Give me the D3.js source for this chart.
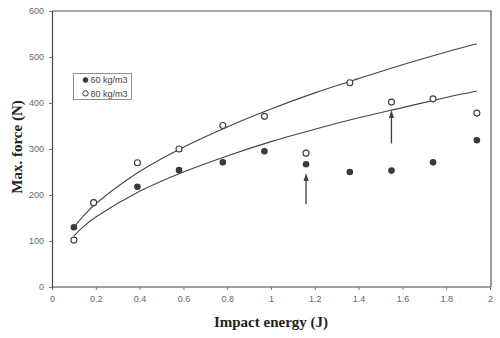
<!DOCTYPE html>
<html>
<head>
<meta charset="utf-8">
<script src="https://cdn.jsdelivr.net/npm/d3@7"></script>
<style>
  html, body { margin: 0; padding: 0; background: #fff; }
  svg { display: block; }
</style>
</head>
<body>
<svg id="chart" width="500" height="338"></svg>
<script>
// Impact energy (J) of each test
const energy = [0.1, 0.19, 0.39, 0.58, 0.78, 0.97, 1.16, 1.36, 1.55, 1.74, 1.94];
// Maximum force (N) per foam density
const force60 = [130, 184, 218, 254, 271, 295, 267, 250, 253, 271, 319];
const force80 = [102, 183, 270, 300, 351, 371, 291, 444, 402, 409, 378];
// Fitted trend curves (energy, force)
const fitEnergy = [0.1, 0.15, 0.2, 0.4, 0.6, 0.8, 1.0, 1.2, 1.4, 1.6, 1.8, 1.94];
const fit80 = [130, 158, 181, 251, 304, 348, 387, 422, 453, 483, 511, 529];
const fit60 = [111, 134, 152, 208, 250, 285, 316, 343, 368, 390, 412, 426];
// Arrows marking notable tests: energy, from force, to force
const arrows = [
  { e: 1.16, from: 180, to: 248 },
  { e: 1.55, from: 312, to: 385 }
];
const xTicks = [0, 0.2, 0.4, 0.6, 0.8, 1, 1.2, 1.4, 1.6, 1.8, 2];
const yTicks = [0, 100, 200, 300, 400, 500, 600];
const seriesNames = ["60 kg/m3", "80 kg/m3"];

const svg = d3.select("#chart");
const m = { left: 52, right: 491, top: 11, bottom: 287 };

const x = d3.scaleLinear().domain([0, 2]).range([m.left, 490]);
const y = d3.scaleLinear().domain([0, 600]).range([m.bottom, m.top]);

const ink = "#3a3a3a";
const tickInk = "#666";

// Frame: top and right borders
svg.append("path")
  .attr("d", `M${m.left},${m.top}H${m.right}V${m.bottom}`)
  .attr("fill", "none").attr("stroke", "#555").attr("stroke-width", 1.2);

// Axes
const xAxis = svg.append("g").attr("transform", `translate(0,${m.bottom})`)
  .call(d3.axisBottom(x).tickValues(xTicks).tickSize(3).tickPadding(6)
    .tickFormat(d3.format("")));
const yAxis = svg.append("g").attr("transform", `translate(${m.left},0)`)
  .call(d3.axisLeft(y).tickValues(yTicks).tickSize(3).tickPadding(5));
[xAxis, yAxis].forEach(g => {
  g.select(".domain").attr("stroke", "#444").attr("stroke-width", 1.2);
  g.selectAll(".tick line").attr("stroke", "#777");
  g.selectAll(".tick text").attr("fill", tickInk)
    .attr("font-family", "Liberation Sans, Arial, sans-serif").attr("font-size", 9);
});
xAxis.select(".domain").attr("d", `M${m.left},0H${m.right}`);

// Axis titles
svg.append("text")
  .attr("x", 271).attr("y", 327).attr("text-anchor", "middle")
  .attr("font-family", "Liberation Serif, Times New Roman, serif")
  .attr("font-weight", "bold").attr("font-size", 15).attr("fill", "#222")
  .text("Impact energy (J)");
svg.append("text")
  .attr("transform", "translate(22,147) rotate(-90)").attr("text-anchor", "middle")
  .attr("font-family", "Liberation Serif, Times New Roman, serif")
  .attr("font-weight", "bold").attr("font-size", 15).attr("fill", "#222")
  .text("Max. force (N)");

// Trend curves
const line = d3.line()
  .x(d => x(d[0])).y(d => y(d[1]))
  .curve(d3.curveCatmullRom.alpha(0.5));
[fit80, fit60].forEach(vals => {
  svg.append("path")
    .datum(fitEnergy.map((e, i) => [e, vals[i]]))
    .attr("d", line)
    .attr("fill", "none").attr("stroke", "#444").attr("stroke-width", 1.1);
});

// Data points
svg.append("g").selectAll("circle")
  .data(energy.map((e, i) => [e, force60[i]]))
  .join("circle")
  .attr("cx", d => x(d[0])).attr("cy", d => y(d[1])).attr("r", 3.3)
  .attr("fill", ink);
svg.append("g").selectAll("circle")
  .data(energy.map((e, i) => [e, force80[i]]))
  .join("circle")
  .attr("cx", d => x(d[0])).attr("cy", d => y(d[1])).attr("r", 3)
  .attr("fill", "#fff").attr("stroke", ink).attr("stroke-width", 1.1);

// Arrows
const arrowInk = "#4a3838";
arrows.forEach(a => {
  const ax = x(a.e), y0 = y(a.from), y1 = y(a.to);
  svg.append("line")
    .attr("x1", ax).attr("x2", ax).attr("y1", y0).attr("y2", y1 + 6)
    .attr("stroke", arrowInk).attr("stroke-width", 1.3);
  svg.append("path")
    .attr("d", `M${ax},${y1}L${ax - 2.5},${y1 + 8}L${ax + 2.5},${y1 + 8}Z`)
    .attr("fill", arrowInk);
});

// Legend
const lg = svg.append("g");
lg.append("rect")
  .attr("x", 73.5).attr("y", 73.5).attr("width", 58).attr("height", 26)
  .attr("fill", "#fff").attr("stroke", "#777").attr("stroke-width", 0.8);
seriesNames.forEach((name, i) => {
  const cy = 80 + i * 13.3;
  const c = lg.append("circle").attr("cx", 85.5).attr("cy", cy).attr("r", 2.7);
  if (i === 0) c.attr("fill", ink);
  else c.attr("fill", "#fff").attr("stroke", ink).attr("stroke-width", 1);
  lg.append("text")
    .attr("x", 90.5).attr("y", cy + 3.2)
    .attr("font-family", "Liberation Sans, Arial, sans-serif")
    .attr("font-size", 9).attr("fill", "#444")
    .text(name);
});
</script>
</body>
</html>
